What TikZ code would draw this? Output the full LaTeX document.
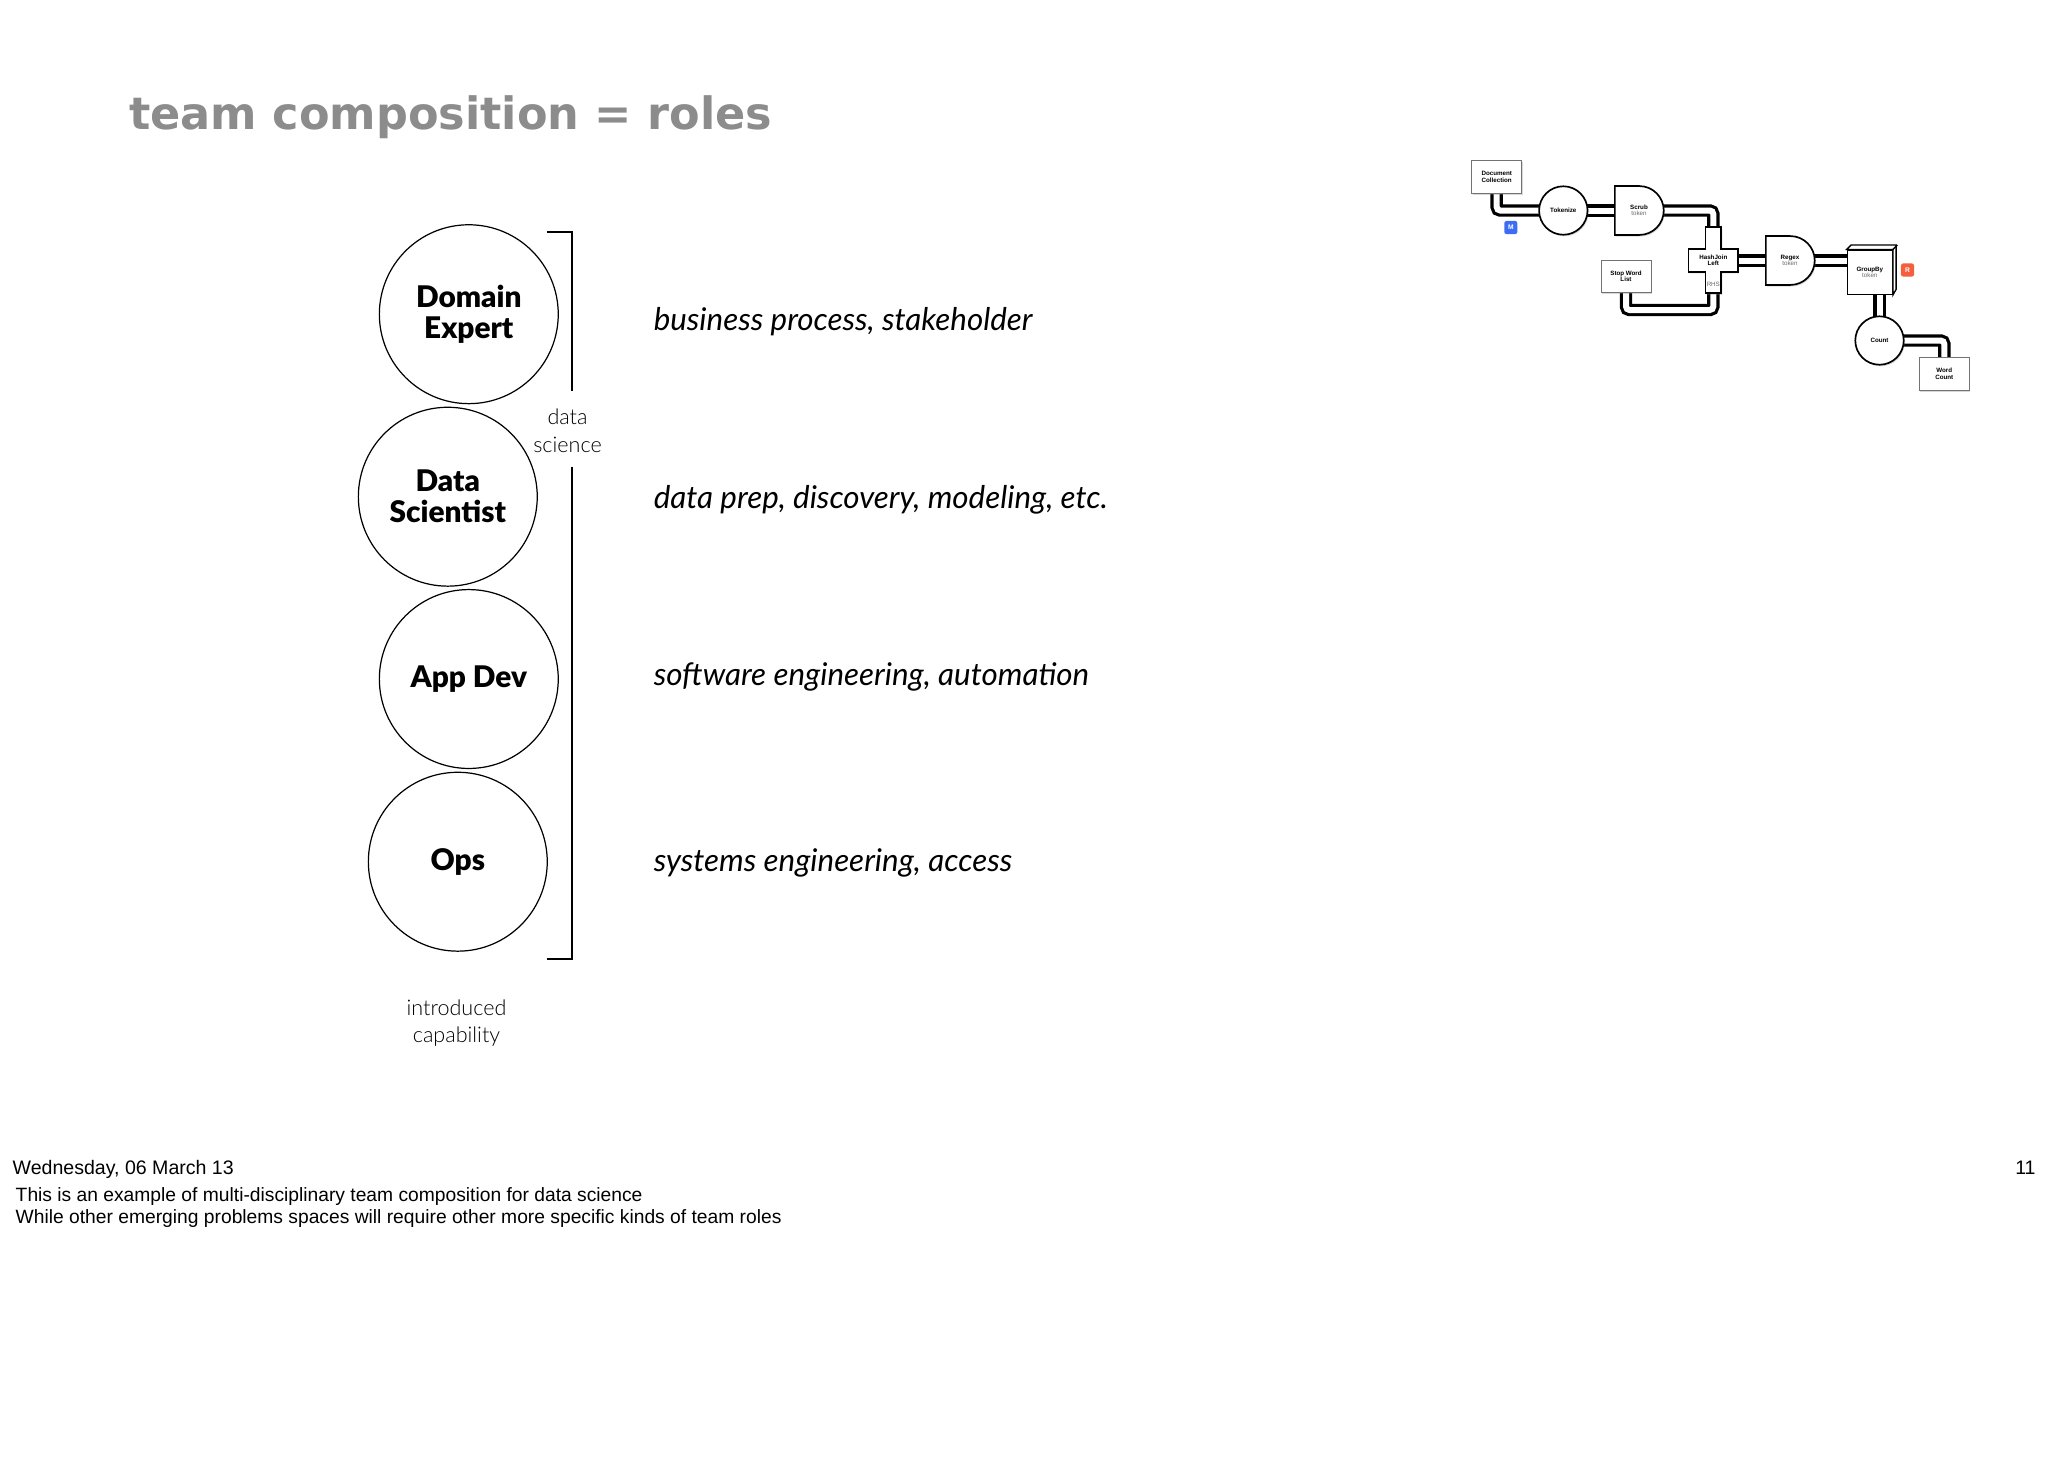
\documentclass[tikz,border=0pt]{standalone}
\usepackage{fontspec}
\setmainfont{Lato}
\newfontfamily\titlefont{DejaVu Sans}
\newfontfamily\rolefont{Lato Black}
\newfontfamily\lightfont{Lato Light}
\newfontfamily\notefont{Liberation Sans}
\usetikzlibrary{shapes.misc,shadows,backgrounds}

\definecolor{titlegray}{HTML}{8C8C8C}
\definecolor{tokengray}{HTML}{6A6A6A}
\definecolor{mblue}{HTML}{3D6DF2}
\definecolor{rred}{HTML}{F2603E}

\newcommand{\tokenlabel}[1]{{\mdseries\color{tokengray}#1}}

\tikzset{
  txt/.style={inner sep=0pt},
  role/.style={circle, draw, line width=0.55pt, minimum size=80.5pt, inner sep=0pt, align=center,
    font=\rolefont\fontsize{13.4}{13.95}\selectfont},
  desc/.style={txt, anchor=base west, font=\fontsize{14.1}{16}\selectfont\itshape},
  light/.style={txt, align=center, font=\lightfont\fontsize{9.7}{12.4}\selectfont},
  note/.style={txt, font=\notefont\fontsize{8.8}{10}\selectfont},
  smallnote/.style={txt, anchor=base west, font=\notefont\fontsize{8.66}{10}\selectfont},
  bracket/.style={line width=0.9pt},
  % フロー図
  fshadow/.style={drop shadow={shadow xshift=0.5pt, shadow yshift=-0.7pt, opacity=0.3}},
  flowtext/.style={align=center, inner sep=0pt, font=\notefont\fontsize{2.8}{2.9}\selectfont\bfseries},
  fbox/.style={flowtext, rectangle, draw=black!55, line width=0.3pt, fill=white,
    minimum width=22.5pt, minimum height=14.7pt, fshadow},
  fcircle/.style={flowtext, circle, draw, line width=0.75pt, fill=white, minimum size=21.8pt, fshadow},
  fgate/.style={flowtext, rounded rectangle, rounded rectangle west arc=none, draw, line width=0.75pt,
    fill=white, minimum width=22pt, minimum height=22pt, fshadow},
  fcube/.style={flowtext, rectangle, draw, line width=0.6pt, fill=white,
    minimum width=20.2pt, minimum height=19.9pt},
  badge/.style={rectangle, rounded corners=1pt, minimum size=5.9pt, inner sep=0pt, text=white,
    font=\notefont\fontsize{3}{3}\selectfont\bfseries},
  pipe/.style={draw=black, line width=1.45pt, double=white, double distance=2.7pt, rounded corners=1.6pt},
  tok/.style={text=tokengray, font=\notefont\fontsize{2.8}{2.9}\selectfont\mdseries},
}

\begin{document}
\begin{tikzpicture}[x=0.45pt, y=-0.45pt]
  \useasboundingbox (0,0) rectangle (2048,1475);

  % タイトル
  \node (title) [txt, anchor=base west, text=titlegray, font=\titlefont\fontsize{20.05}{24}\selectfont\bfseries]
    at (128.7,129) {team composition = roles};

  % 役割
  \node (domain) [role] at (468.8,314.2) {Domain\\Expert};
  \node (scientist) [role] at (447.8,496.7) {Data\\Scientist};
  \node (appdev) [role] at (468.8,679) {App Dev};
  \node (ops) [role] at (457.8,861.7) {Ops};

  % 括弧
  \coordinate (b1) at (546.7,231.7);
  \coordinate (b2) at (571.7,231.7);
  \coordinate (b3) at (571.7,391);
  \coordinate (b4) at (571.7,466.7);
  \coordinate (b5) at (571.7,959);
  \coordinate (b6) at (546.7,959);
  \draw [bracket] (b1) -- (b2) -- (b3);
  \draw [bracket] (b4) -- (b5) -- (b6);
  \node (dslabel) [light] at (567.5,431) {data\\science};
  \node (intro) [light] at (456.5,1023) {introduced\\capability};

  % 説明
  \node (desc1) [desc] at (653.3,330.7) {business process, stakeholder};
  \node (desc2) [desc] at (653.3,508.3) {data prep, discovery, modeling, etc.};
  \node (desc3) [desc] at (653.3,685) {software engineering, automation};
  \node (desc4) [desc] at (653.3,871.7) {systems engineering, access};

  % フロー図
  \node (doc) [fbox] at (1496.7,177) {Document\\Collection};
  \node (tokenize) [fcircle] at (1563.3,210.5) {Tokenize};
  \node (scrub) [fgate] at (1639,210.5) {Scrub\\[-0.3pt]\tokenlabel{token}};
  \node (stopword) [fbox] at (1626,276.3) {Stop Word\\List};
  \draw [line width=0.75pt, fill=white, drop shadow={shadow xshift=0.5pt, shadow yshift=-0.7pt, opacity=0.3}]
    (1705.5,227.3) -- (1721.2,227.3) -- (1721.2,249) -- (1738,249) -- (1738,271.7) -- (1721.2,271.7)
    -- (1721.2,293.3) -- (1705.5,293.3) -- (1705.5,271.7) -- (1688.5,271.7) -- (1688.5,249)
    -- (1705.5,249) -- cycle;
  \node (hashjoin) [flowtext] at (1713.3,260.5) {HashJoin\\Left};
  \node (rhs) [flowtext, tok] at (1713.3,284.7) {RHS};
  \node (regex) [fgate] at (1790,260.5) {Regex\\[-0.3pt]\tokenlabel{token}};
  \node (groupby) [fcube] at (1869.8,272.2) {GroupBy\\[-0.3pt]\tokenlabel{token}};
  \draw [line width=0.6pt, fill=white] (groupby.north west) -- ++(4.4,-4.4) -- ++(45,0) -- ++(0,44.3)
    -- (groupby.south east) -- (groupby.north east) -- cycle;
  \draw [line width=0.6pt] (groupby.north east) -- ++(4.4,-4.4);
  \node (count) [fcircle] at (1879.5,340.5) {Count};
  \node (wordcount) [fbox] at (1944.3,373.8) {Word\\Count};
  \node (mbadge) [badge, fill=mblue] at (1510.8,227.5) {M};
  \node (rbadge) [badge, fill=rred] at (1907.5,270) {R};

  % 配管
  \coordinate (swturn) at (1713.3,310);
  \begin{scope}[on background layer]
    \fill [white] (0,0) rectangle (2048,1475);
    \draw [pipe] (doc.center) |- (tokenize.center);
    \draw [pipe] (tokenize.center) -- (scrub.center);
    \draw [pipe] (scrub.center) -| (hashjoin.center);
    \draw [pipe] (stopword.center) |- (swturn) -- (hashjoin.center);
    \draw [pipe] (hashjoin.center) -- (regex.center);
    \draw [pipe] (regex.center) -- (regex.center -| groupby.center);
    \draw [pipe] (count.center |- groupby.center) -- (count.center);
    \draw [pipe] (count.center) -| (wordcount.center);
  \end{scope}

  % フッター
  \node (date) [note, anchor=base west] at (12.3,1174.5) {Wednesday, 06 March 13};
  \node (pageno) [note, anchor=base east] at (2036,1174.5) {11};
  \node (note1) [smallnote] at (15.3,1201) {This is an example of multi-disciplinary team composition for data science};
  \node (note2) [smallnote] at (15.3,1223.5) {While other emerging problems spaces will require other more specific kinds of team roles};
\end{tikzpicture}
\end{document}
